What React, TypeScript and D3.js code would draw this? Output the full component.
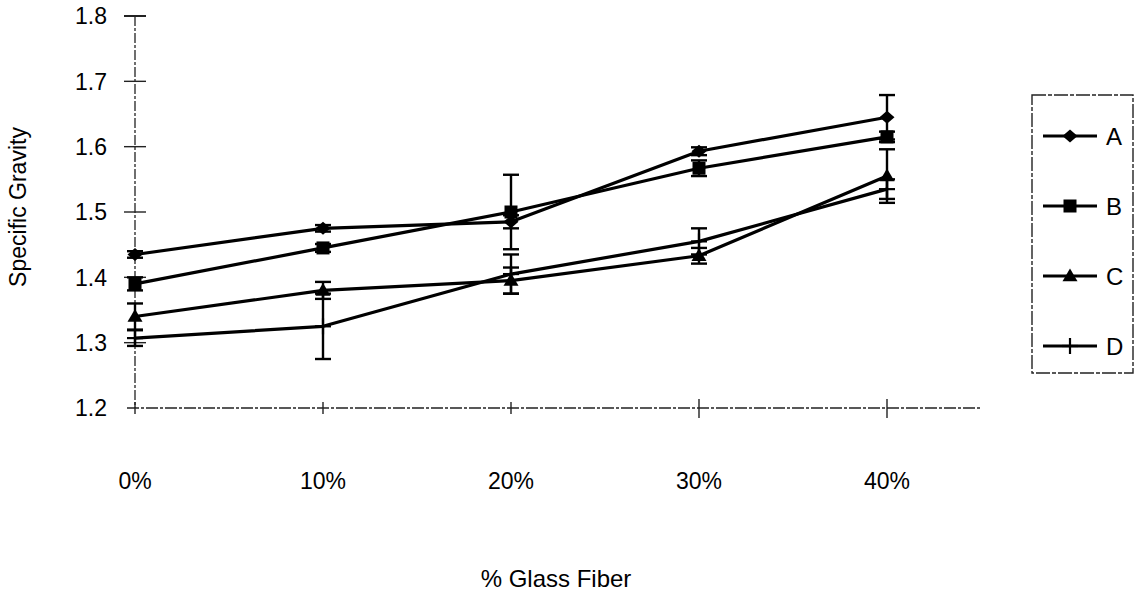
import React from "react";
import * as d3 from "d3";

// Glass fiber content levels
const categories = ["0%", "10%", "20%", "30%", "40%"];

// Mean specific gravity for each formulation
const seriesA = [1.435, 1.475, 1.485, 1.593, 1.645];
const seriesB = [1.39, 1.445, 1.5, 1.567, 1.615];
const seriesC = [1.34, 1.38, 1.395, 1.433, 1.555];
const seriesD = [1.307, 1.325, 1.405, 1.455, 1.535];

// Standard deviations (error bar half-lengths)
const errorA = [0.005, 0.005, 0.01, 0.006, 0.034];
const errorB = [0.01, 0.006, 0.057, 0.012, 0.008];
const errorC = [0.02, 0.013, 0.02, 0.012, 0.041];
const errorD = [0.012, 0.05, 0.03, 0.02, 0.015];

const seriesNames = ["A", "B", "C", "D"];
const yTicks = [1.2, 1.3, 1.4, 1.5, 1.6, 1.7, 1.8];

const FONT = "Liberation Sans, Arial, sans-serif";

type Series = { name: string; values: number[]; errors: number[]; marker: string };

const series: Series[] = [
  { name: seriesNames[0], values: seriesA, errors: errorA, marker: "diamond" },
  { name: seriesNames[1], values: seriesB, errors: errorB, marker: "square" },
  { name: seriesNames[2], values: seriesC, errors: errorC, marker: "triangle" },
  { name: seriesNames[3], values: seriesD, errors: errorD, marker: "plus" },
];

function Marker({ kind, cx, cy }: { kind: string; cx: number; cy: number }) {
  if (kind === "diamond") {
    const rx = 7.5;
    const ry = 6.5;
    return (
      <path
        d={`M${cx},${cy - ry}L${cx + rx},${cy}L${cx},${cy + ry}L${cx - rx},${cy}Z`}
        fill="#000"
      />
    );
  }
  if (kind === "square") {
    const s = 13;
    return <rect x={cx - s / 2} y={cy - s / 2} width={s} height={s} fill="#000" />;
  }
  if (kind === "triangle") {
    const r = 7.5;
    return (
      <path
        d={`M${cx},${cy - r}L${cx + r},${cy + r * 0.7}L${cx - r},${cy + r * 0.7}Z`}
        fill="#000"
      />
    );
  }
  return (
    <g stroke="#000" strokeWidth={2.2}>
      <line x1={cx - 8} x2={cx + 8} y1={cy} y2={cy} />
      <line x1={cx} x2={cx} y1={cy - 8} y2={cy + 8} />
    </g>
  );
}

export default function App() {
  const width = 1135;
  const height = 592;
  const x = d3.scalePoint<string>().domain(categories).range([135, 887]);
  const y = d3.scaleLinear().domain([1.2, 1.8]).range([408, 16]);
  const line = d3
    .line<number>()
    .x((_, i) => x(categories[i]) as number)
    .y((v) => y(v));

  const xAxisEnd = 980;
  const axisY = y(1.2);
  const axisX = x(categories[0]) as number;

  const legendX = 1032;
  const legendY = 95;
  const legendW = 101;
  const legendH = 278;

  return (
    <svg
      width={width}
      height={height}
      style={{ position: "absolute", left: 0, top: 0, background: "#fff" }}
      fontFamily={FONT}
    >
      <rect width={width} height={height} fill="#fff" />

      {/* y axis */}
      <line
        x1={axisX}
        x2={axisX}
        y1={y(1.8)}
        y2={axisY}
        stroke="#222"
        strokeWidth={1.3}
        strokeDasharray="10 2 3 2"
      />
      {yTicks.map((t) => (
        <g key={t}>
          {t > 1.2 && (
            <line
              x1={axisX - 11}
              x2={axisX + 11}
              y1={y(t)}
              y2={y(t)}
              stroke="#222"
              strokeWidth={t === 1.8 ? 2 : 1.4}
            />
          )}
          <text
            x={axisX - 28}
            y={y(t)}
            dy="0.36em"
            textAnchor="end"
            fontSize={23}
            fill="#000"
          >
            {t.toFixed(1)}
          </text>
        </g>
      ))}

      {/* x axis */}
      <line
        x1={axisX - 8}
        x2={xAxisEnd}
        y1={axisY}
        y2={axisY}
        stroke="#222"
        strokeWidth={1.3}
        strokeDasharray="12 2 3 2"
      />
      {categories.map((c, i) => (
        <g key={c}>
          <line
            x1={x(c)}
            x2={x(c)}
            y1={axisY - (i < 3 ? 6 : 9)}
            y2={axisY + (i < 3 ? 6 : 10)}
            stroke="#222"
            strokeWidth={1.4}
          />
          <text
            x={x(c)}
            y={481}
            dy="0.36em"
            textAnchor="middle"
            fontSize={23}
            fill="#000"
          >
            {c}
          </text>
        </g>
      ))}

      {/* axis titles */}
      <text
        x={556}
        y={578}
        dy="0.36em"
        textAnchor="middle"
        fontSize={24}
        fill="#000"
      >
        % Glass Fiber
      </text>
      <text
        transform={`translate(18,207) rotate(-90)`}
        dy="0.35em"
        textAnchor="middle"
        fontSize={23}
        fill="#000"
      >
        Specific Gravity
      </text>

      {/* error bars */}
      {series.map((s) =>
        s.values.map((v, i) => {
          const cx = x(categories[i]) as number;
          const top = y(v + s.errors[i]);
          const bot = y(v - s.errors[i]);
          return (
            <g key={`${s.name}-e-${i}`} stroke="#000" strokeWidth={2.4}>
              <line x1={cx} x2={cx} y1={top} y2={bot} />
              <line x1={cx - 8} x2={cx + 8} y1={top} y2={top} />
              <line x1={cx - 8} x2={cx + 8} y1={bot} y2={bot} />
            </g>
          );
        })
      )}

      {/* series lines */}
      {series.map((s) => (
        <path
          key={`${s.name}-l`}
          d={line(s.values) ?? ""}
          fill="none"
          stroke="#000"
          strokeWidth={3.2}
          strokeLinejoin="round"
        />
      ))}

      {/* markers */}
      {series.map((s) =>
        s.values.map((v, i) => (
          <Marker
            key={`${s.name}-m-${i}`}
            kind={s.marker}
            cx={x(categories[i]) as number}
            cy={y(v)}
          />
        ))
      )}

      {/* legend */}
      <rect
        x={legendX}
        y={legendY}
        width={legendW}
        height={legendH}
        fill="#fff"
        stroke="#222"
        strokeWidth={1.4}
        strokeDasharray="14 2 4 2"
      />
      {series.map((s, i) => {
        const ly = legendY + 41 + i * 70;
        return (
          <g key={`${s.name}-leg`}>
            <line
              x1={legendX + 11}
              x2={legendX + 65}
              y1={ly}
              y2={ly}
              stroke="#000"
              strokeWidth={3}
            />
            <Marker kind={s.marker} cx={legendX + 38} cy={ly} />
            <text
              x={legendX + 74}
              y={ly}
              dy="0.36em"
              fontSize={24}
              fill="#000"
            >
              {s.name}
            </text>
          </g>
        );
      })}
    </svg>
  );
}
